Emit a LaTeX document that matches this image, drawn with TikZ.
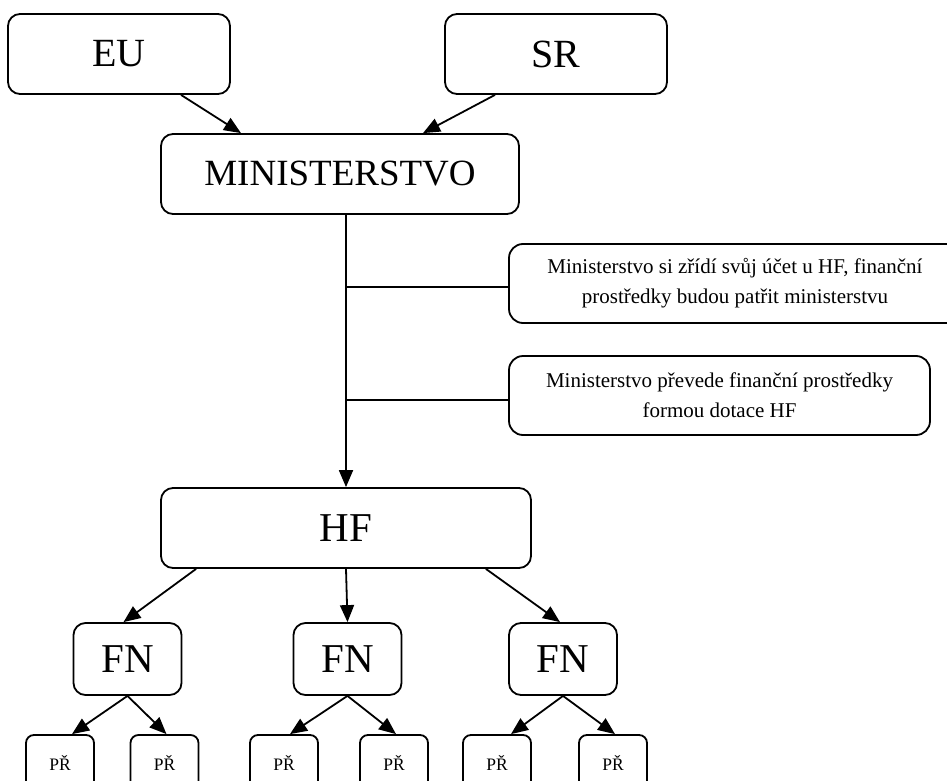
\documentclass[tikz,border=0pt]{standalone}
\usepackage{fontspec}
\setmainfont{Liberation Serif}
\usetikzlibrary{arrows.meta}
\begin{document}
\begin{tikzpicture}[x=1pt,y=-1pt]
		\tikzstyle{every node}+=[inner sep=0pt]
		\tikzstyle{box}=[draw, line width=1.8pt, rounded corners=12pt, align=center]
		\tikzstyle{topbox}=[box, minimum height=80pt, font=\fontsize{40}{44}\selectfont]
		\tikzstyle{minbox}=[box, minimum height=80pt, font=\fontsize{37}{40}\selectfont]
		\tikzstyle{fnbox}=[box, minimum width=108pt, minimum height=72pt, font=\fontsize{41}{44}\selectfont]
		\tikzstyle{notebox}=[box, rounded corners=14pt, minimum height=79pt, font=\fontsize{21}{30}\selectfont]
		\tikzstyle{prbox}=[box, rounded corners=8pt, minimum width=68pt, minimum height=55pt, font=\fontsize{17.5}{20}\selectfont]
		\tikzstyle{link}=[line width=1.8pt, -{Triangle[length=17pt,width=14pt]}]
		\useasboundingbox (0,0) rectangle (947,781);
		\node [topbox, minimum width=222pt] (eu) at (119,54) {EU};
		\node [topbox, minimum width=222pt] (sr) at (556,54) {SR};
		\node [minbox, minimum width=358pt] (min) at (340,174) {MINISTERSTVO};
		\node [notebox, minimum width=452pt] (note1) at (735,283.5) {Ministerstvo si zřídí svůj účet u HF, finanční\\prostředky budou patřit ministerstvu};
		\node [notebox, minimum width=421pt] (note2) at (719.5,395.5) {Ministerstvo převede finanční prostředky\\formou dotace HF};
		\node [topbox, minimum width=370pt, font=\fontsize{41}{44}\selectfont] (hf) at (346,528) {HF};
		\foreach \i/\x in {1/127.5, 2/347.5, 3/563}
			\node [fnbox] (fn\i) at (\x,659) {FN};
		\foreach \j/\x in {1/60, 2/164.5, 3/284, 4/394, 5/497, 6/613}
			\node [prbox] (pr\j) at (\x,762.5) {PŘ};
		\draw [link] ([xshift=62pt]eu.south) -- ([xshift=-99pt]min.north);
		\draw [link] ([xshift=-61pt]sr.south) -- ([xshift=83pt]min.north);
		\draw [link] (min.south -| hf.north) -- (hf.north);
		\draw [line width=1.8pt] ([yshift=-3.5pt]note1.west -| hf.north) -- ([yshift=-3.5pt]note1.west);
		\draw [line width=1.8pt] ([yshift=-4.5pt]note2.west -| hf.north) -- ([yshift=-4.5pt]note2.west);
		\draw [link] ([xshift=36pt]hf.south west) -- ([xshift=-4pt]fn1.north);
		\draw [link] (hf.south) -- (fn2.north);
		\draw [link] ([xshift=-46pt]hf.south east) -- ([xshift=-3pt]fn3.north);
		\foreach \i/\l/\r/\s in {1/1/2/12, 2/3/4/6, 3/5/6/14} {
			\draw [link] (fn\i.south) -- ([xshift=\s pt]pr\l.north);
			\draw [link] (fn\i.south) -- ([xshift=2pt]pr\r.north);
		}
	\end{tikzpicture}
\end{document}
